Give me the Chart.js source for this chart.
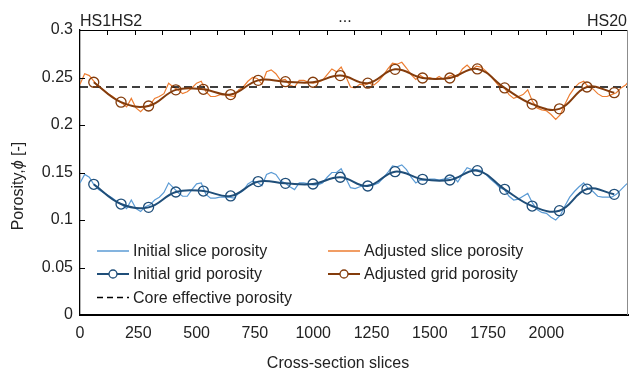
<!DOCTYPE html>
<html lang="en">
<head>
  <meta charset="UTF-8" />
  <title>Porosity along the core</title>
  <script src="https://cdn.jsdelivr.net/npm/chart.js"></script>
  <style>
    html, body { margin: 0; padding: 0; background: #fff; }
    #wrap { width: 630px; height: 372px; }
  </style>
</head>
<body>
  <div id="wrap"><canvas id="porosityChart" width="630" height="372"></canvas></div>

  <script>
// slice positions (cross-section index)
const sliceX = [
  0, 20, 40, 60, 80, 100, 120, 140, 160, 180,
  200, 220, 240, 260, 280, 300, 320, 340, 360, 380,
  400, 420, 440, 460, 480, 500, 520, 540, 560, 580,
  600, 620, 640, 660, 680, 700, 720, 740, 760, 780,
  800, 820, 840, 860, 880, 900, 920, 940, 960, 980,
  1000, 1020, 1040, 1060, 1080, 1100, 1120, 1140, 1160, 1180,
  1200, 1220, 1240, 1260, 1280, 1300, 1320, 1340, 1360, 1380,
  1400, 1420, 1440, 1460, 1480, 1500, 1520, 1540, 1560,
  1580, 1600, 1620, 1640, 1660, 1680, 1700, 1720, 1740, 1760,
  1780, 1800, 1820, 1840, 1860, 1880, 1900, 1920, 1940, 1960,
  1980, 2000, 2020, 2040, 2060, 2080, 2100, 2120, 2140, 2160,
  2180, 2200, 2220, 2240, 2260, 2280, 2300, 2320, 2340, 2350
];

const initialSlice = [
  0.139, 0.148, 0.145, 0.137, 0.132, 0.129, 0.126, 0.123, 0.119, 0.116,
  0.112, 0.121, 0.112, 0.109, 0.114, 0.116, 0.121, 0.124, 0.129, 0.139,
  0.134, 0.129, 0.125, 0.125, 0.132, 0.138, 0.139, 0.127, 0.123, 0.123,
  0.124, 0.124, 0.124, 0.123, 0.128, 0.131, 0.138, 0.141, 0.140, 0.136,
  0.148, 0.150, 0.148, 0.141, 0.139, 0.135, 0.132, 0.139, 0.139, 0.138,
  0.137, 0.137, 0.139, 0.145, 0.150, 0.150, 0.154, 0.144, 0.134, 0.133,
  0.135, 0.136, 0.137, 0.137, 0.139, 0.144, 0.150, 0.157, 0.156, 0.158,
  0.153, 0.145, 0.139, 0.142, 0.142, 0.143, 0.143, 0.142, 0.143,
  0.144, 0.146, 0.140, 0.148, 0.155, 0.153, 0.153, 0.152, 0.148, 0.143,
  0.139, 0.134, 0.132, 0.125, 0.121, 0.122, 0.125, 0.128, 0.118, 0.111,
  0.108, 0.107, 0.103, 0.100, 0.105, 0.115, 0.124, 0.130, 0.135, 0.139,
  0.133, 0.130, 0.125, 0.124, 0.124, 0.124, 0.127, 0.132, 0.137, 0.139
];

const adjustedSlice = [
  0.243, 0.254, 0.252, 0.246, 0.240, 0.237, 0.233, 0.230, 0.226, 0.223,
  0.219, 0.228, 0.218, 0.214, 0.219, 0.221, 0.228, 0.230, 0.233, 0.244,
  0.240, 0.237, 0.233, 0.235, 0.239, 0.244, 0.246, 0.235, 0.230, 0.230,
  0.232, 0.232, 0.231, 0.230, 0.237, 0.240, 0.246, 0.250, 0.249, 0.243,
  0.256, 0.258, 0.254, 0.247, 0.248, 0.242, 0.240, 0.247, 0.247, 0.245,
  0.244, 0.245, 0.247, 0.253, 0.259, 0.256, 0.261, 0.251, 0.240, 0.239,
  0.243, 0.242, 0.244, 0.242, 0.246, 0.252, 0.259, 0.265, 0.264, 0.266,
  0.260, 0.253, 0.248, 0.252, 0.249, 0.250, 0.248, 0.251, 0.248,
  0.251, 0.253, 0.251, 0.259, 0.263, 0.258, 0.262, 0.261, 0.257, 0.252,
  0.246, 0.240, 0.239, 0.232, 0.228, 0.230, 0.232, 0.237, 0.225, 0.218,
  0.216, 0.215, 0.211, 0.206, 0.211, 0.222, 0.232, 0.239, 0.244, 0.246,
  0.240, 0.238, 0.233, 0.230, 0.230, 0.232, 0.234, 0.239, 0.242, 0.245
];

// one grid value per HS section (HS1..HS20), placed at section centre
const gridX = [59, 176, 294, 411, 529, 646, 764, 881, 999, 1116,
               1234, 1351, 1469, 1586, 1704, 1821, 1939, 2056, 2174, 2291];
const initialGrid = [0.1376, 0.1168, 0.1133, 0.1295, 0.1305, 0.1253, 0.1404, 0.1386, 0.1379, 0.1450,
                     0.1358, 0.1509, 0.1428, 0.1421, 0.1519, 0.1323, 0.1147, 0.1098, 0.1326, 0.1270];
const adjustedGrid = [0.245, 0.224, 0.220, 0.237, 0.2376, 0.232, 0.247, 0.2456, 0.245, 0.252,
                      0.244, 0.2586, 0.2495, 0.2495, 0.259, 0.239, 0.222, 0.217, 0.240, 0.234];

const coreEffective = 0.24;
const sliceMax = 2350;
const sectionCount = 20;
const xTickValues = [0, 250, 500, 750, 1000, 1250, 1500, 1750, 2000];
const yTickValues = [0, 0.05, 0.1, 0.15, 0.2, 0.25, 0.3];

const FONT = "'Liberation Sans', Arial, sans-serif";
const FS = 16;
const cInitSlice = '#5b9bd5';
const cAdjSlice = '#ed7d31';
const cInitGrid = '#1f4e79';
const cAdjGrid = '#843c0c';

const pts = (xs, ys) => xs.map((x, i) => ({ x: x, y: ys[i] }));

// frame, inward ticks, HS labels, legend and axis titles
const decorations = {
  id: 'decorations',
  afterDraw(chart) {
    const { ctx, chartArea: a, scales: { x, y } } = chart;
    const seg = (x1, y1, x2, y2) => { ctx.beginPath(); ctx.moveTo(x1, y1); ctx.lineTo(x2, y2); ctx.stroke(); };
    ctx.save();

    ctx.strokeStyle = '#000';
    ctx.lineWidth = 1;
    seg(a.left, a.top + 0.5, a.right, a.top + 0.5);
    for (let i = 1; i < sectionCount; i++) {
      const px = Math.round(x.getPixelForValue(sliceMax / sectionCount * i)) + 0.5;
      seg(px, a.top, px, a.top + 5);
    }
    yTickValues.slice(1, -1).forEach(v => {
      const py = Math.round(y.getPixelForValue(v)) + 0.5;
      seg(a.left, py, a.left + 5, py);
    });
    ctx.strokeStyle = '#8c8c8c';
    seg(a.right - 0.5, a.top, a.right - 0.5, a.bottom);

    // HS labels above the plot
    ctx.fillStyle = '#222';
    ctx.font = FS + 'px ' + FONT;
    ctx.textBaseline = 'alphabetic';
    ctx.textAlign = 'left';
    const x0 = x.getPixelForValue(0);
    ctx.fillText('HS1', x0, 26);
    ctx.fillText('HS2', x0 + ctx.measureText('HS1').width, 26);
    ctx.textAlign = 'center';
    ctx.fillText('...', x.getPixelForValue(1136), 22);
    ctx.textAlign = 'right';
    ctx.fillText('HS20', x.getPixelForValue(sliceMax) - 1, 26);

    // legend
    const items = [
      { label: 'Initial slice porosity', color: cInitSlice, lw: 1.5, col: 0, row: 0 },
      { label: 'Adjusted slice porosity', color: cAdjSlice, lw: 1.5, col: 1, row: 0 },
      { label: 'Initial grid porosity', color: cInitGrid, lw: 2, marker: true, col: 0, row: 1 },
      { label: 'Adjusted grid porosity', color: cAdjGrid, lw: 2, marker: true, col: 1, row: 1 },
      { label: 'Core effective porosity', color: '#000', lw: 1.5, dash: [6, 4], col: 0, row: 2 }
    ];
    const colX = [97, 328];
    const rowY = [251, 274, 297.5];
    ctx.textAlign = 'left';
    ctx.textBaseline = 'middle';
    items.forEach(it => {
      const lx = colX[it.col], ly = rowY[it.row];
      ctx.strokeStyle = it.color;
      ctx.lineWidth = it.lw;
      ctx.setLineDash(it.dash || []);
      seg(lx, ly, lx + 32, ly);
      ctx.setLineDash([]);
      if (it.marker) {
        ctx.lineWidth = 1.3;
        ctx.fillStyle = '#fff';
        ctx.beginPath(); ctx.arc(lx + 16, ly, 4, 0, Math.PI * 2); ctx.fill(); ctx.stroke();
      }
      ctx.fillStyle = '#222';
      ctx.fillText(it.label, lx + 36, ly + 1);
    });

    // axis titles
    ctx.textAlign = 'center';
    ctx.textBaseline = 'alphabetic';
    ctx.fillText('Cross-section slices', 338, 368);

    ctx.translate(23, 186);
    ctx.rotate(-Math.PI / 2);
    const p1 = 'Porosity,', p2 = '\u03d5', p3 = ' [-]';
    ctx.font = FS + 'px ' + FONT;
    const w1 = ctx.measureText(p1).width, w3 = ctx.measureText(p3).width;
    ctx.font = 'italic ' + FS + 'px ' + FONT;
    const w2 = ctx.measureText(p2).width;
    let tx = -(w1 + w2 + w3) / 2;
    ctx.textAlign = 'left';
    ctx.font = FS + 'px ' + FONT;
    ctx.fillText(p1, tx, 0); tx += w1;
    ctx.font = 'italic ' + FS + 'px ' + FONT;
    ctx.fillText(p2, tx, 0); tx += w2;
    ctx.font = FS + 'px ' + FONT;
    ctx.fillText(p3, tx, 0);

    ctx.restore();
  }
};

new Chart(document.getElementById('porosityChart'), {
  type: 'line',
  data: {
    datasets: [
      {
        label: 'Initial grid porosity',
        data: pts(gridX, initialGrid),
        borderColor: cInitGrid, borderWidth: 2, tension: 0.4,
        pointRadius: 5, pointBorderWidth: 1.3, pointBorderColor: cInitGrid,
        pointBackgroundColor: 'rgba(255,255,255,0)', order: 0
      },
      {
        label: 'Adjusted grid porosity',
        data: pts(gridX, adjustedGrid),
        borderColor: cAdjGrid, borderWidth: 2, tension: 0.4,
        pointRadius: 5, pointBorderWidth: 1.3, pointBorderColor: cAdjGrid,
        pointBackgroundColor: 'rgba(255,255,255,0)', order: 0
      },
      {
        label: 'Core effective porosity',
        data: [{ x: 0, y: coreEffective }, { x: sliceMax, y: coreEffective }],
        borderColor: '#000', borderWidth: 1.5, borderDash: [8, 5],
        pointRadius: 0, order: 1
      },
      {
        label: 'Initial slice porosity',
        data: pts(sliceX, initialSlice),
        borderColor: cInitSlice, borderWidth: 1.2, pointRadius: 0, tension: 0, order: 2
      },
      {
        label: 'Adjusted slice porosity',
        data: pts(sliceX, adjustedSlice),
        borderColor: cAdjSlice, borderWidth: 1.2, pointRadius: 0, tension: 0, order: 2
      }
    ]
  },
  options: {
    responsive: false,
    animation: false,
    layout: { autoPadding: false, padding: { top: 30, right: 2, left: 0, bottom: 0 } },
    plugins: { legend: { display: false }, tooltip: { enabled: false } },
    scales: {
      x: {
        type: 'linear', min: 0, max: sliceMax,
        afterBuildTicks: s => { s.ticks = xTickValues.map(v => ({ value: v })); },
        afterFit: s => { s.height = 57; s.paddingLeft = 0; s.paddingRight = 0; },
        grid: { display: false, drawTicks: false },
        border: { display: true, color: '#000', width: 2 },
        ticks: {
          padding: 9, color: '#222', font: { family: FONT, size: FS }, maxRotation: 0,
          callback: v => String(v)
        }
      },
      y: {
        min: 0, max: 0.3,
        afterBuildTicks: s => { s.ticks = yTickValues.map(v => ({ value: v })); },
        afterFit: s => { s.width = 80; s.paddingTop = 0; s.paddingBottom = 0; },
        grid: { display: false, drawTicks: false },
        border: { display: true, color: '#000', width: 1.3 },
        ticks: {
          padding: 7, color: '#222', font: { family: FONT, size: FS },
          callback: v => String(+v.toFixed(2))
        }
      }
    }
  },
  plugins: [decorations]
});
  </script>
</body>
</html>
